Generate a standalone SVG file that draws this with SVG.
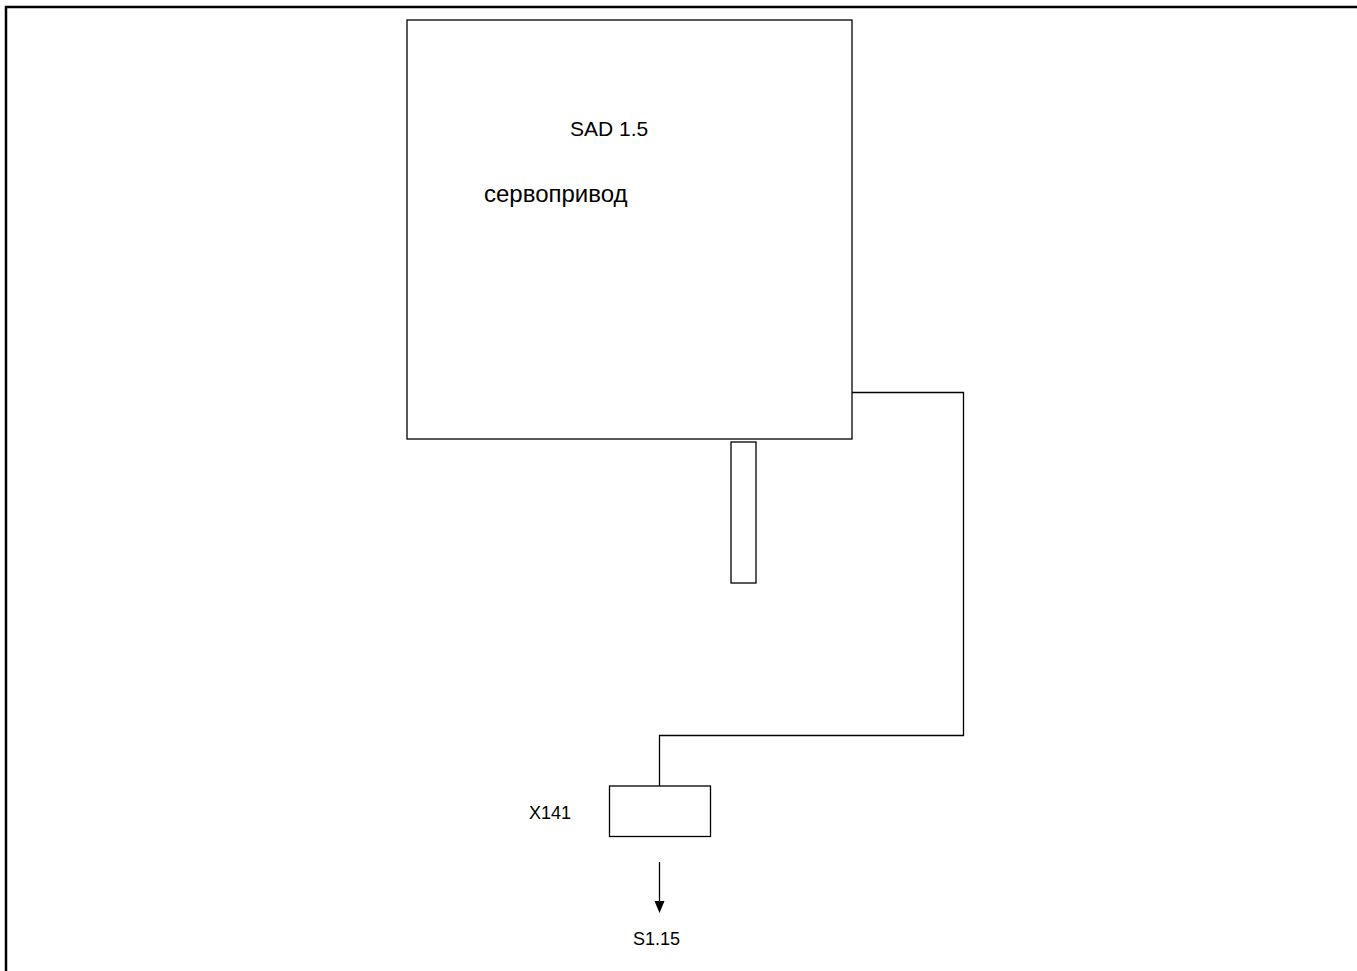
<svg xmlns="http://www.w3.org/2000/svg" width="1357" height="971" viewBox="0 0 1357 971">
<style>
.box{fill:none;stroke:#000;stroke-width:1.3}
.wire{fill:none;stroke:#000;stroke-width:1.3}
.frame{fill:none;stroke:#000;stroke-width:2.5}
.head{fill:#000}
text{font-family:"Liberation Sans",Arial,sans-serif;fill:#000}
</style>
<rect width="1357" height="971" fill="#fff"/>
<path class="frame" d="M6,971 V7 H1357"/>
<g id="servo">
<rect class="box" x="407" y="20" width="445" height="419"/>
<text x="570" y="136" font-size="21">SAD 1.5</text>
<text x="484" y="202" font-size="24">сервопривод</text>
</g>
<g id="shaft">
<rect class="box" x="731" y="442" width="25" height="141"/>
</g>
<g id="x141">
<rect class="box" x="609.5" y="786" width="101" height="50.5"/>
<text x="529" y="819" font-size="18">X141</text>
</g>
<g id="s115">
<text x="633" y="945" font-size="18">S1.15</text>
</g>
<g id="connectors">
<path class="wire" d="M852,392.5 H963.5 V735.5 H659.5 V786"/>
<path class="wire" d="M659.5,862 V902"/>
<polygon class="head" points="654.5,901 664.5,901 659.5,913"/>
</g>
</svg>
